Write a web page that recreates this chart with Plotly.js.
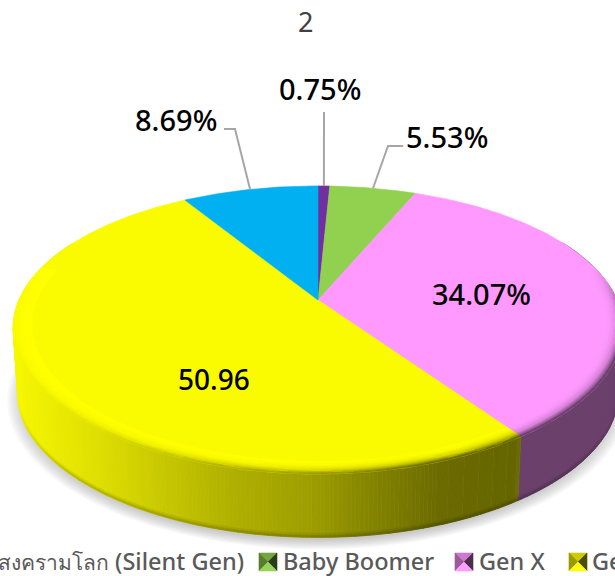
<!DOCTYPE html>
<html><head><meta charset="utf-8">
<script src="https://cdn.plot.ly/plotly-3.0.1.min.js"></script>
<style>html,body{margin:0;padding:0;background:#fff;overflow:hidden}#c{width:615px;height:576px}</style>
</head><body><div id="c"></div>
<script>
// ---- data ----
const categories = ['หลังสงครามโลก (Silent Gen)','Baby Boomer','Gen X','Gen Y','Gen Z'];
const values = [0.75,5.53,34.07,50.96,8.69];
const labels = ['0.75%','5.53%','34.07%','50.96','8.69%'];
const colors = ['#7030a0','#92d050','#ff99ff','#ffff00','#00b0f0'];
const chartTitle = '2';

// ---- perspective pie projection ----
const cx=318, cy=300, K=-0.208, KX=-0.195, B=137.8, A=299;
const wallScale=0.985, wallDrop=66;
function proj(t,r){ // t clockwise from 12 o'clock, r radial fraction
  const u=r*Math.sin(t), v=-r*Math.cos(t);
  return [cx+A*u/(1+KX*v), cy+B*v/(1+K*v)];
}
function low(t,r){const p=proj(t,r);return [cx+wallScale*(p[0]-cx), cy+wallDrop+wallScale*(p[1]-cy)];}
function rgb(h){return [1,3,5].map(i=>parseInt(h.substr(i,2),16));}
function css(c){return 'rgb('+c.map(x=>Math.round(x)).join(',')+')';}
function mul(c,f){return c.map(x=>x*f);}
function mix(a,b,f){return a.map((x,i)=>x+(b[i]-x)*f);}
const shadeX=[13,100,230,310,370,440,517], shadeF=[0.97,0.87,0.69,0.62,0.52,0.42,0.40];
function shade(x){ // wall brightness by screen x
  if(x>=517) return 0.42;
  if(x<=13) return 0.97;
  let i=0; while(x>shadeX[i+1]) i++;
  return shadeF[i]+(shadeF[i+1]-shadeF[i])*(x-shadeX[i])/(shadeX[i+1]-shadeX[i]);
}
const total=values.reduce((a,b)=>a+b,0);
const edges=[0]; values.forEach(v=>edges.push(edges[edges.length-1]+v/total*2*Math.PI));

const traces=[];
function poly(xs,ys,color){traces.push({type:'scatter',mode:'lines',x:xs,y:ys,fill:'toself',fillcolor:color,
  line:{color:color,width:0.6},hoverinfo:'skip',showlegend:false});}

// soft drop shadow
for(let s=0;s<9;s++){
  const xs=[],ys=[],g=1.035-s*0.007;
  for(let i=0;i<=180;i++){const t=i/180*2*Math.PI;const p=low(t,1);xs.push(cx+g*(p[0]-cx));ys.push(cy+wallDrop+g*(p[1]-cy-wallDrop)+6);}
  traces.push({type:'scatter',mode:'lines',x:xs,y:ys,fill:'toself',fillcolor:'rgba(120,120,120,0.055)',line:{width:0},hoverinfo:'skip',showlegend:false});
}

// group quads by colour so they share a trace
const groups={};
function quad(pts,c){const k=css(c);const g=groups[k]||(groups[k]={x:[],y:[]});
  const x0=pts[0][0],y0=pts[0][1];
  pts.forEach(p=>{g.x.push(p[0]);g.y.push(p[1]);});g.x.push(x0,null);g.y.push(y0,null);}
function flush(){Object.keys(groups).forEach(k=>{poly(groups[k].x,groups[k].y,k);delete groups[k];});}

// side wall, split into vertical strips, with a darker lip added afterwards
const lips=[];
values.forEach((v,i)=>{
  const base=rgb(colors[i]),n=Math.max(2,Math.ceil((edges[i+1]-edges[i])/0.012));
  for(let j=0;j<n;j++){
    const a=edges[i]+(edges[i+1]-edges[i])*j/n,b=edges[i]+(edges[i+1]-edges[i])*(j+1)/n;
    const m=(a+b)/2,vv=-Math.cos(m); if(vv<-0.45) continue;
    const c=mul(base,shade(proj(m,1)[0]));
    const q=low(a,1),w=low(b,1);
    quad([proj(a,1),proj(b,1),w,q],c);
    const near=Math.max(0,Math.min(1,(vv-0.25)/0.45));
    if(near>0) lips.push([q,w,c,near]);
  }
});
flush();
lips.forEach(l=>{const q=l[0],w=l[1];
  quad([[q[0],q[1]-4],[w[0],w[1]-4],[w[0],w[1]-2],[q[0],q[1]-2]],mul(l[2],1-0.07*l[3]));});
flush();
lips.forEach(l=>{const q=l[0],w=l[1];
  quad([[q[0],q[1]-2],[w[0],w[1]-2],w,q],mul(l[2],1-0.18*l[3]));});
flush();

// top faces
values.forEach((v,i)=>{
  const xs=[cx],ys=[cy],n=Math.max(3,Math.ceil((edges[i+1]-edges[i])/0.01));
  for(let j=0;j<=n;j++){const p=proj(edges[i]+(edges[i+1]-edges[i])*j/n,1);xs.push(p[0]);ys.push(p[1]);}
  xs.push(cx);ys.push(cy);
  poly(xs,ys,i===3?'#fafa00':colors[i]);
});

// bevel fading the face into the wall on the near edge
const steps=[0.94,0.95,0.958,0.965,0.972,0.978,0.984,0.989,0.994,1.0];
values.forEach((v,i)=>{
  const base=rgb(colors[i]),n=Math.max(2,Math.ceil((edges[i+1]-edges[i])/0.03));
  for(let j=0;j<n;j++){
    const a=edges[i]+(edges[i+1]-edges[i])*j/n,b=edges[i]+(edges[i+1]-edges[i])*(j+1)/n;
    const m=(a+b)/2,vv=-Math.cos(m); if(vv<-0.25) continue;
    const near=Math.min(1,(vv+0.25)/0.6),wall=mul(base,shade(proj(m,1)[0]));
    steps.forEach((r,s)=>{
      if(s===0) return;
      const f=Math.pow(s/(steps.length-1),2.5)*near;
      quad([proj(a,steps[s-1]),proj(b,steps[s-1]),proj(b,r),proj(a,r)],mix(base,wall,f));
    });
  }
});
flush();

// leader lines (outer end on the slice rim)
function mid(i){return (edges[i]+edges[i+1])/2;}
const leaders=[[0,[324,112]],[1,[388,146],[403,146]],[4,[235,129],[224,129]]];
leaders.forEach(l=>{
  const p=proj(mid(l[0]),1);
  const xs=[p[0]],ys=[p[1]];
  l.slice(1).forEach(q=>{xs.push(q[0]);ys.push(q[1]);});
  traces.push({type:'scatter',mode:'lines',x:xs,y:ys,line:{color:'#a6a6a6',width:2},hoverinfo:'skip',showlegend:false});
});

// legend swatches
const swatchX=[null,259,455,569];
swatchX.forEach((x,i)=>{
  if(x===null) return;
  const base=rgb(colors[i]),s=18,y=553,c=[x+s/2,y+s/2];
  poly([x,x+s,c[0],x],[y,y,c[1],y],css(mul(base,0.8)));
  poly([x,c[0],x,x],[y,c[1],y+s,y],css(mul(base,0.6)));
  poly([x+s,c[0],x+s,x+s],[y,c[1],y+s,y],css(mul(base,0.3)));
  poly([x,x+s,c[0],x],[y+s,y+s,c[1],y+s],css(mix(base,[255,255,255],0.05)));
});

const F='"Noto Sans","Open Sans",sans-serif';
function lab(text,x,y,size,color,anchor,weight){return {text:text,x:x,y:y,xref:'x',yref:'y',showarrow:false,
  xanchor:anchor||'center',yanchor:'middle',font:{family:F,size:size,color:color,weight:weight||400}};}
const firstLegend=categories[0].replace(/^([^ ]+)/,'<span style="font-size:21px">$1</span>');
const annotations=[
  lab(labels[0],320,88,29,'#000','center',500),
  lab(labels[1],447,136,29,'#000','center',500),
  lab(labels[2],481,293,29,'#000','center',500),
  lab(labels[3],214,379,28,'#000','center',500),
  lab(labels[4],176,119,29,'#000','center',500),
  lab(firstLegend,246,561,23.5,'#595959','right',500),
  lab(categories[1],281,561,23.5,'#595959','left',500),
  lab(categories[2],477,561,23.5,'#595959','left',500),
  lab(categories[3],590,561,23.5,'#595959','left',500)
];

Plotly.newPlot('c',traces,{
  width:615,height:576,margin:{l:0,r:0,t:0,b:0},paper_bgcolor:'#fff',plot_bgcolor:'#fff',showlegend:false,
  xaxis:{range:[0,615],visible:false,fixedrange:true},
  yaxis:{range:[576,0],visible:false,fixedrange:true},
  annotations:annotations.concat([lab(chartTitle,305,21,27,'#404040')])
},{displayModeBar:false,staticPlot:true});
</script></body></html>
